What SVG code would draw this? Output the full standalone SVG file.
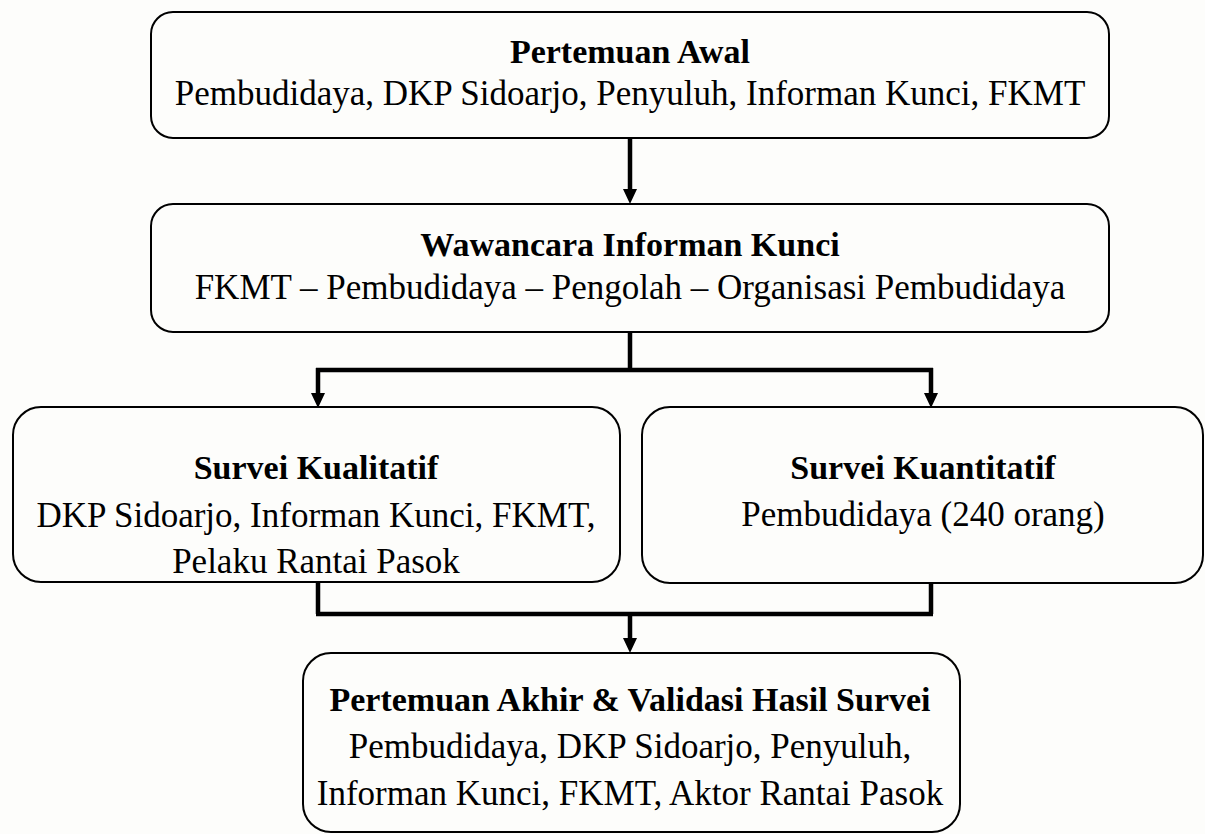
<svg xmlns="http://www.w3.org/2000/svg" width="1205" height="834" viewBox="0 0 1205 834">
  <style>
    .box { fill: none; stroke: #000; stroke-width: 2; }
    .title { font-family: "Liberation Serif", "Times New Roman", serif; font-size: 34px; font-weight: bold; text-anchor: middle; fill: #000; }
    .body { font-family: "Liberation Serif", "Times New Roman", serif; font-size: 35px; text-anchor: middle; fill: #000; }
    .wire { fill: none; stroke: #000; stroke-width: 4.5; stroke-linejoin: miter; }
    .head { fill: #000; }
  </style>
  <rect width="1205" height="834" fill="#fdfdfb"/>

  <g id="connectors">
    <!-- opening meeting to interviews -->
    <path class="wire" d="M630,138 V189"/>
    <path class="head" d="M623,189 L637,189 L630,204 Z"/>
    <!-- interviews split to both surveys -->
    <path class="wire" d="M630,332 V370 M316,370 H933 M318,368 V393 M931,368 V393"/>
    <path class="head" d="M311,393 L325,393 L318,408 Z"/>
    <path class="head" d="M924,393 L938,393 L931,408 Z"/>
    <!-- surveys merge into final meeting -->
    <path class="wire" d="M318,582 V614 M931,583 V614 M316,614 H933 M630,612 V638"/>
    <path class="head" d="M623,638 L637,638 L630,653 Z"/>
  </g>

  <g id="pertemuan-awal">
    <rect class="box" x="151" y="12" width="958" height="126" rx="22"/>
    <text class="title" x="630" y="63">Pertemuan Awal</text>
    <text class="body" x="630" y="105">Pembudidaya, DKP Sidoarjo, Penyuluh, Informan Kunci, FKMT</text>
  </g>

  <g id="wawancara">
    <rect class="box" x="151" y="204" width="958" height="128" rx="22"/>
    <text class="title" x="630" y="256">Wawancara Informan Kunci</text>
    <text class="body" x="630" y="299">FKMT – Pembudidaya – Pengolah – Organisasi Pembudidaya</text>
  </g>

  <g id="survei-kualitatif">
    <rect class="box" x="13" y="407" width="607" height="175" rx="28"/>
    <text class="title" x="316" y="479">Survei Kualitatif</text>
    <text class="body" x="316" y="527">DKP Sidoarjo, Informan Kunci, FKMT,</text>
    <text class="body" x="316" y="573">Pelaku Rantai Pasok</text>
  </g>

  <g id="survei-kuantitatif">
    <rect class="box" x="642" y="407" width="561" height="176" rx="28"/>
    <text class="title" x="923" y="479">Survei Kuantitatif</text>
    <text class="body" x="923" y="526">Pembudidaya (240 orang)</text>
  </g>

  <g id="pertemuan-akhir">
    <rect class="box" x="303" y="653" width="657" height="179" rx="28"/>
    <text class="title" x="630" y="711">Pertemuan Akhir &amp; Validasi Hasil Survei</text>
    <text class="body" x="630" y="758">Pembudidaya, DKP Sidoarjo, Penyuluh,</text>
    <text class="body" x="630" y="805">Informan Kunci, FKMT, Aktor Rantai Pasok</text>
  </g>
</svg>
